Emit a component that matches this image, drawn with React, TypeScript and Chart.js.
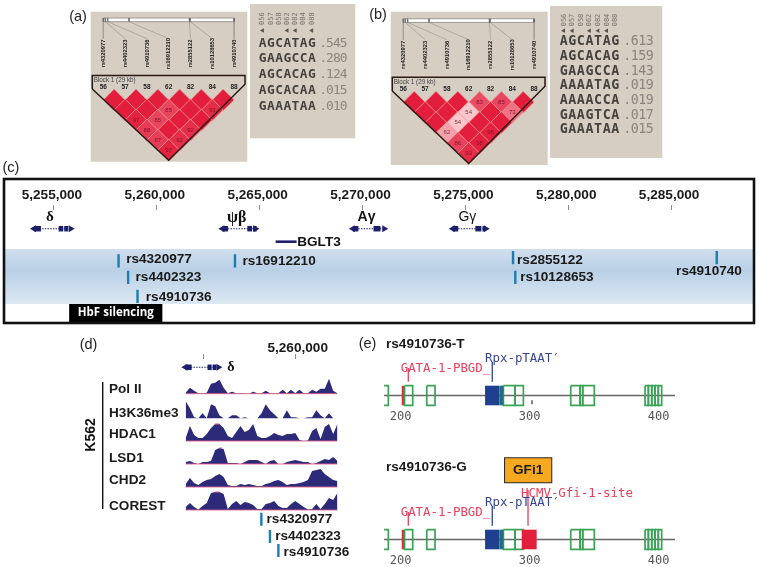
import React, { useEffect, useRef } from "react";
import { Chart, registerables } from "chart.js";

Chart.register(...registerables);

const W = 759;
const H = 567;
const SANS = '"Liberation Sans", Arial, sans-serif';
const SERIF = '"Liberation Serif", serif';
const MONO = '"DejaVu Sans Mono", monospace';

// ---------- data: LD blocks and haplotypes
const snpNames = ["rs4320977", "rs4402323", "rs4910736", "rs16912210", "rs2855122", "rs10128653", "rs4910740"];
const snpIds = ["56", "57", "58", "62", "82", "84", "88"];
const snpBarPositions = [0, 0.09, 0.2, 1.18, 3.95, 3.98, 6];
const ldA = [[100, 100, 100, 100, 100, 100], [100, 100, 85, 100, 93], [97, 85, 100, 100], [88, 100, 92], [87, 92], [97]];
const ldB = [[100, 100, 100, 83, 85, 100], [100, 100, 54, 100, 73], [100, 54, 100, 100], [62, 100, 98], [86, 98], [93]];
const hapHeaders = ["056", "057", "058", "062", "082", "084", "088"];
const hapsA = ["AGCATAG", "GAAGCCA", "AGCACAG", "AGCACAA", "GAAATAA"];
const freqsA = [".545", ".280", ".124", ".015", ".010"];
const arrowsA = [0, 3, 4, 6];
const hapsB = ["AGCATAG", "AGCACAG", "GAAGCCA", "AAAATAG", "AAAACCA", "GAAGTCA", "GAAATAA"];
const freqsB = [".613", ".159", ".143", ".019", ".019", ".017", ".015"];
const arrowsB = [0, 1, 3, 4, 5];

// ---------- data: genome browser
const genomeTicks = [5255000, 5260000, 5265000, 5270000, 5275000, 5280000, 5285000];
const zoomTicks = [5255000, 5260000];
const seqTicks = [200, 300, 400];
const genes = [
  { name: "δ", start: 5254029, end: 5255874, exons: [[5254029, 5254369], [5255228, 5255451], [5255500, 5255694]] },
  { name: "ψβ", start: 5263189, end: 5264854, exons: [[5263189, 5263460], [5264400, 5264630], [5264680, 5264854]] },
  { name: "Aγ", start: 5269529, end: 5271117, exons: [[5269529, 5269800], [5270534, 5270874]] },
  { name: "Gγ", start: 5274383, end: 5276053, exons: [[5274383, 5274650], [5275485, 5275777], [5275830, 5275960]] },
];
const bglt3 = [5265777, 5266796];
const silencing = [5255740, 5260270];
const snpBp = [5258141, 5258607, 5259063, 5263801, 5277316, 5277427, 5287218];

// ---------- data: K562 tracks (signal height)
const trackStart = 5254048;
const trackStep = 228;
const polII = [1, 6, 3, 0.5, 0.5, 1, 10, 11, 14, 6, 0.5, 2, 0.5, 0.5, 0.5, 0, 2, 0.5, 0.5, 3, 0.5, 0.5, 0.5, 4, 0.5, 4, 0.5, 4, 0.5, 0.5, 4, 2, 5, 5, 15, 3, 0.5];
const h3k36 = [17, 10, 1, 0, 5, 0, 14, 12, 3, 0, 0, 3, 3, 0, 1, 0, 0, 0, 5, 14, 8, 4, 0, 0, 8, 1, 1, 0, 0, 1, 1, 8, 3, 0, 5, 0, 0];
const hdac1 = [3, 15, 6, 3, 3, 7, 13, 17, 17, 13, 5, 3, 9, 15, 9, 11, 17, 5, 3, 3, 5, 8, 6, 5, 7, 7, 8, 1, 0, 0.5, 10, 13, 2, 14, 17, 7, 17];
const lsd1 = [2, 3, 1, 0, 2, 2, 3, 14, 16, 15, 1, 1, 1, 0, 2, 4, 4, 4, 2, 0, 3, 4, 0, 0, 2, 3, 4, 3, 2, 2, 0, 1, 3, 5, 4, 7, 3];
const chd2 = [3, 9, 4, 2, 5, 7, 8, 11, 13, 10, 2, 1, 1, 3, 2, 3, 2, 1, 1, 3, 4, 6, 7, 5, 2, 3, 3, 4, 5, 7, 16, 17, 18, 13, 10, 7, 6];
const corest = [3, 7, 3, 0.5, 4, 7, 17, 18, 18, 16, 1, 6, 9, 5, 8, 7, 5, 1, 1, 6, 7, 9, 4, 2, 2, 6, 9, 6, 3, 0.5, 1, 6, 1, 6, 12, 10, 17];
const trackNames = ["Pol II", "H3K36me3", "HDAC1", "LSD1", "CHD2", "COREST"];
const trackValues = [polII, h3k36, hdac1, lsd1, chd2, corest];
const clippedPeaks = [{ track: 2, from: 7, to: 8, level: 17 }, { track: 3, from: 8, to: 8.6, level: 16 }, { track: 5, from: 7, to: 8, level: 18 }];

// ---------- data: transcription-factor site map (sequence position)
const greenBoxes = [[203, 209.3], [220.2, 226.6], [279.6, 288.6], [288.6, 295.1], [331.8, 339], [339, 341.1], [341.1, 350.1], [389.4, 392], [392, 394.6], [394.6, 397.2], [397.2, 399.7], [399.7, 402.3]];
const greenBracket = [187.1, 190.4];
const gataSite = [200.8, 202.6];
const rpxSite = [265.4, 276.5];
const tealSite = [276.5, 279.6];
const gfiSite = [293.8, 305.4];
const rulerExtent = [187.1, 412.6];

// ---------- helpers
type Txt = { t: string; x: number; y: number; font: string; color?: string; align?: CanvasTextAlign; rot?: number; ls?: string; yAxis?: string };
type Rect = { l: number; r: number; t: number; b: number };

const range = (p0: number, p1: number, anchorPx: number, anchorVal: number, k: number) => ({
  min: anchorVal + (p0 - anchorPx) / k,
  max: anchorVal + (p1 - anchorPx) / k,
});

const seg = (data: any[], color: string, width: number, extra: any = {}) => ({
  data, showLine: true, borderColor: color, borderWidth: width, pointRadius: 0, clip: false, ...extra,
});
const pts = (data: any[], color: string, style: string, radius: number, rotation = 0, extra: any = {}) => ({
  data, showLine: false, backgroundColor: color, borderWidth: 0, pointStyle: style, pointRadius: radius, rotation, clip: false, ...extra,
});
const hidden = (r: { min: number; max: number }, reverse = false) => ({ type: "linear", display: false, reverse, ...r });
const fixedTicks = (values: number[]) => (s: any) => { s.ticks = values.map((value) => ({ value })); };

function makeChart(canvas: HTMLCanvasElement, cfg: {
  rect: Rect; axisTop?: number; axisBottom?: number; scales: any; datasets: any[]; texts?: Txt[];
  under?: (c: any) => void; over?: (c: any) => void;
}) {
  const { rect, axisTop = 0, axisBottom = 0 } = cfg;
  return new Chart(canvas, {
    type: "scatter",
    data: { datasets: cfg.datasets.slice().reverse() },
    options: {
      responsive: false,
      animation: false,
      devicePixelRatio: 1,
      events: [],
      layout: { padding: { left: rect.l, right: W - rect.r, top: rect.t - axisTop, bottom: H - rect.b - axisBottom } },
      scales: cfg.scales,
      plugins: { legend: { display: false }, tooltip: { enabled: false } },
    } as any,
    plugins: [{
      id: "panel",
      beforeDatasetsDraw: (c: any) => cfg.under && cfg.under(c),
      afterDatasetsDraw: (c: any) => {
        if (cfg.over) cfg.over(c);
        const ctx = c.ctx;
        for (const it of cfg.texts || []) {
          const px = c.scales.x.getPixelForValue(it.x);
          const py = c.scales[it.yAxis || "y"].getPixelForValue(it.y);
          ctx.save();
          ctx.translate(px, py);
          if (it.rot) ctx.rotate(it.rot);
          ctx.font = it.font;
          ctx.fillStyle = it.color || "#111";
          ctx.textAlign = it.align || "left";
          ctx.textBaseline = "middle";
          (ctx as any).letterSpacing = it.ls || "0px";
          ctx.fillText(it.t, 0, 0);
          ctx.restore();
        }
      },
    }] as any,
  });
}

function ldColor(v: number) {
  const t = Math.pow((100 - v) / 46, 1.3);
  const mix = (a: number, b: number) => Math.round(a + (b - a) * t);
  return `rgb(${mix(226, 250)},${mix(30, 198)},${mix(60, 204)})`;
}

function ldChart(canvas: HTMLCanvasElement, ld: number[][], rect: Rect, x0: number, y0: number, letter: string, letterX: number, letterY: number) {
  const dx = 21.8, dy = 10.6;
  const cells: any[] = [];
  const colors: string[] = [];
  const texts: Txt[] = [];
  ld.forEach((row, r) => row.forEach((v, k) => {
    const d = r + 1;
    const x = k + d / 2;
    cells.push({ x, y: d });
    colors.push(ldColor(v));
    if (v < 100) texts.push({ t: String(v), x, y: d, font: `6px ${SANS}`, color: v < 70 ? "#7a3a40" : "#8e1028", align: "center" });
  }));
  const barTop = -7.16, barBot = -6.8, nameEnd = -5.11;
  snpNames.forEach((n, i) => {
    texts.push({ t: n, x: i, y: -3.62, font: `bold 5.8px ${SANS}`, color: "#222", align: "center", rot: -Math.PI / 2 });
    texts.push({ t: snpIds[i], x: i, y: -0.245, font: `bold 6.5px ${SANS}`, color: "#222", align: "center" });
  });
  texts.push({ t: "Block 1 (29 kb)", x: -0.44, y: -0.93, font: `6.3px ${SANS}`, color: "#444" });
  texts.push({ t: letter, x: (letterX - x0) / dx, y: (letterY - y0) / dy, font: `14.5px ${SANS}`, color: "#222", align: "center" });
  return makeChart(canvas, {
    rect,
    scales: { x: hidden(range(rect.l, rect.r, x0, 0, dx)), y: hidden(range(rect.t, rect.b, y0, 0, dy), true) },
    under: (c) => {
      const a = c.chartArea;
      c.ctx.fillStyle = "#d6cdc3";
      c.ctx.fillRect(a.left, a.top, a.width, a.height);
    },
    texts,
    datasets: [
      ...snpBarPositions.map((p, i) => seg([{ x: p, y: barBot }, { x: i, y: nameEnd }], "#a5a099", 0.8)),
      seg([{ x: 0, y: (barTop + barBot) / 2 }, { x: 6, y: (barTop + barBot) / 2 }], "#ffffff", 3.6),
      seg([{ x: 0, y: barTop }, { x: 6, y: barTop }, { x: 6, y: barBot }, { x: 0, y: barBot }, { x: 0, y: barTop }], "#8a857f", 0.8),
      ...snpBarPositions.map((p) => seg([{ x: p, y: barTop }, { x: p, y: barBot }], "#6a6560", 0.8)),
      pts(cells, "#e21e3c", "rectRot", 10.9, 0, { backgroundColor: colors, borderColor: "#f09a94", borderWidth: 0.8 }),
      seg([{ x: -0.505, y: -0.085 }, { x: -0.505, y: -1.43 }, { x: 6.5, y: -1.43 }, { x: 6.5, y: -0.56 }, { x: 3, y: 7 }, { x: -0.505, y: -0.085 }], "#2a1a14", 1.5),
    ],
  });
}

function hapChart(canvas: HTMLCanvasElement, rect: Rect, haps: string[], freqs: string[], arrows: number[], x0: number, dx: number, y0: number, dy: number, freqPx: number, font: number, ls1: string, ls2: string, hdr: number, tri: number) {
  const texts: Txt[] = [];
  hapHeaders.forEach((h, i) => texts.push({ t: h, x: i, y: hdr, font: `7px ${MONO}`, color: "#77726c", align: "center", rot: -Math.PI / 2 }));
  haps.forEach((h, r) => {
    texts.push({ t: h, x: -0.5 + 0.03, y: r, font: `bold ${font}px ${MONO}`, color: "#45423e", ls: ls1 });
    texts.push({ t: freqs[r], x: (freqPx - x0) / dx, y: r, font: `${font}px ${MONO}`, color: "#8a857e", ls: ls2 });
  });
  return makeChart(canvas, {
    rect,
    scales: { x: hidden(range(rect.l, rect.r, x0, 0, dx)), y: hidden(range(rect.t, rect.b, y0, 0, dy), true) },
    under: (c) => {
      const a = c.chartArea;
      c.ctx.fillStyle = "#d6cdc3";
      c.ctx.fillRect(a.left, a.top, a.width, a.height);
    },
    texts,
    datasets: [pts(arrows.map((i) => ({ x: i, y: tri })), "#55514c", "triangle", 2.6, -90)],
  });
}

function geneSets(g: { start: number; end: number; exons: number[][] }, y: number) {
  const navy = "#1d1f6b";
  return [
    seg([{ x: g.start, y }, { x: g.end, y }], navy, 1.1, { borderDash: [1.5, 1.2] }),
    ...g.exons.map((e) => seg([{ x: e[0], y }, { x: e[1], y }], navy, 5.5)),
    pts([{ x: g.start, y }], navy, "triangle", 4, -90),
    pts([{ x: g.end - 60, y }], navy, "triangle", 4, 90),
  ];
}

function panelC(canvas: HTMLCanvasElement) {
  const k = 0.0206;
  const rect = { l: 3, r: 755, t: 210, b: 324 };
  const bold = `bold 13.6px ${SANS}`;
  const snpRows = [
    { top: 254.3, text: 259, off: 7.6 },
    { top: 270.7, text: 277.7, off: 7.4 },
    { top: 289.7, text: 297.3, off: 8.3 },
    { top: 254.3, text: 261.3, off: 7.4 },
    { top: 251, text: 260, off: 4 },
    { top: 270.7, text: 277, off: 5 },
    { top: 251, text: 271.7, off: -40.7 },
  ];
  const geneLabels = [
    { dx: 49, font: `bold 15px ${SERIF}` },
    { dx: 236, font: `bold 16px ${SERIF}` },
    { dx: 366, font: `bold 14px ${SANS}` },
    { dx: 467, font: `14px ${SANS}` },
  ];
  const toBp = (px: number) => 5255000 + (px - 53) / k;
  const texts: Txt[] = [
    { t: "(c)", x: toBp(10), y: 168, font: `14.5px ${SANS}`, color: "#222", align: "center" },
    { t: "BGLT3", x: bglt3[1] + 30, y: 242, font: bold },
    { t: "HbF silencing", x: (silencing[0] + silencing[1]) / 2, y: 313, font: `bold 11.5px "Open Sans", ${SANS}`, color: "#fff", align: "center" },
  ];
  genes.forEach((g, i) => texts.push({ t: g.name, x: toBp(geneLabels[i].dx), y: 217.5, font: geneLabels[i].font, align: "center" }));
  snpNames.forEach((n, i) => texts.push({ t: n, x: snpBp[i] + snpRows[i].off / k, y: snpRows[i].text, font: bold, color: "#1a1a1a" }));
  return makeChart(canvas, {
    rect,
    axisTop: 32,
    scales: {
      x: {
        type: "linear", position: "top", ...range(rect.l, rect.r, 53, 5255000, k),
        afterFit: (s: any) => { s.height = 32; },
        afterBuildTicks: fixedTicks(genomeTicks),
        grid: { display: true, drawOnChartArea: false, drawTicks: true, tickLength: 5, tickColor: "#8c8c8c", tickWidth: 1 },
        border: { display: false },
        ticks: { autoSkip: false, maxRotation: 0, padding: 2, labelOffset: -2, color: "#1a1a1a", font: { family: "Liberation Sans", size: 13.6, weight: "bold" }, callback: (v: number) => v.toLocaleString("en-US") },
      },
      y: hidden({ min: rect.t, max: rect.b }, true),
    },
    texts,
    under: (c) => {
      const ctx = c.ctx;
      const y = c.scales.y;
      const g = ctx.createLinearGradient(0, y.getPixelForValue(249), 0, y.getPixelForValue(304));
      g.addColorStop(0, "#cfdeed");
      g.addColorStop(0.4, "#b9d0e6");
      g.addColorStop(1, "#dde8f3");
      ctx.fillStyle = g;
      ctx.fillRect(4, y.getPixelForValue(249), 750, 55);
    },
    over: (c) => {
      const ctx = c.ctx;
      ctx.strokeStyle = "#111";
      ctx.lineWidth = 2.6;
      ctx.strokeRect(4, 179, 750, 144);
    },
    datasets: [
      ...genes.flatMap((g) => geneSets(g, 228.7)),
      seg([{ x: bglt3[0], y: 241.7 }, { x: bglt3[1], y: 241.7 }], "#1d1f6b", 2.6),
      seg([{ x: silencing[0], y: 313 }, { x: silencing[1], y: 313 }], "#000", 18),
      ...snpBp.map((b, i) => seg([{ x: b, y: snpRows[i].top }, { x: b, y: snpRows[i].top + 13.3 }], "#1c7db0", 2.4)),
    ],
  });
}

function panelD(canvas: HTMLCanvasElement) {
  const k = 0.01848;
  const rect = { l: 85, r: 345, t: 359, b: 560 };
  const baselines = [393.7, 418.3, 441, 464, 487, 510];
  const labelYs = [389, 413, 434.7, 458, 480.7, 506];
  const bold = `bold 13.6px ${SANS}`;
  const toBp = (px: number) => 5260000 + (px - 295.7) / k;
  const snpTops = [512.7, 530, 544];
  const snpTextY = [519.3, 536.3, 552.3];
  const trackScales: any = {};
  baselines.forEach((b, i) => { trackScales[`t${i}`] = hidden({ min: b - rect.b, max: b - rect.t }); });
  const texts: Txt[] = [
    { t: "(d)", x: toBp(88.5), y: 345, font: `14.5px ${SANS}`, color: "#222", align: "center" },
    { t: "δ", x: toBp(231), y: 367, font: `bold 14px ${SERIF}`, align: "center" },
    { t: "K562", x: toBp(90.7), y: 435, font: `bold 14px ${SANS}`, align: "center", rot: -Math.PI / 2 },
  ];
  trackNames.forEach((n, i) => texts.push({ t: n, x: toBp(109), y: labelYs[i], font: bold, color: "#1a1a1a" }));
  snpNames.slice(0, 3).forEach((n, i) => texts.push({ t: n, x: snpBp[i] + 5.2 / k, y: snpTextY[i], font: bold, color: "#1a1a1a" }));
  const xOf = (i: number) => trackStart + i * trackStep;
  return makeChart(canvas, {
    rect,
    axisTop: 20,
    scales: {
      x: {
        type: "linear", position: "top", ...range(rect.l, rect.r, 295.7, 5260000, k),
        afterFit: (s: any) => { s.height = 20; },
        afterBuildTicks: fixedTicks(zoomTicks),
        grid: { display: true, drawOnChartArea: false, drawTicks: true, tickLength: 5, tickColor: "#8c8c8c", tickWidth: 1 },
        border: { display: false },
        ticks: { autoSkip: false, maxRotation: 0, padding: -2, labelOffset: 2, color: "#1a1a1a", font: { family: "Liberation Sans", size: 13.6, weight: "bold" }, callback: (v: number) => (v === 5260000 ? v.toLocaleString("en-US") : "") },
      },
      y: hidden({ min: rect.t, max: rect.b }, true),
      ...trackScales,
    },
    texts,
    datasets: [
      ...geneSets(genes[0], 367.3),
      seg([{ x: toBp(102.7), y: 382 }, { x: toBp(102.7), y: 509 }], "#111", 1.4),
      ...trackValues.map((vals, i) =>
        seg(vals.map((v, j) => ({ x: xOf(j), y: v })), "rgba(0,0,0,0)", 0, { yAxisID: `t${i}`, fill: "origin", backgroundColor: "#2d2a7a" })),
      ...trackValues.map((vals, i) => i === 1 ? null :
        seg([{ x: xOf(0), y: 0 }, { x: xOf(vals.length - 1), y: 0 }], "#e0608c", 0.9, { yAxisID: `t${i}` })).filter(Boolean),
      ...clippedPeaks.map((p) => seg([{ x: xOf(p.from), y: p.level }, { x: xOf(p.to), y: p.level }], "#e0608c", 1.2, { yAxisID: `t${p.track}` })),
      ...snpBp.slice(0, 3).map((b, i) => seg([{ x: b, y: snpTops[i] }, { x: b, y: snpTops[i] + 13 }], "#1c7db0", 2.4)),
    ] as any[],
  });
}

function panelE(canvas: HTMLCanvasElement, rect: Rect, top: number, withG: boolean, labels: { gataY: number; rpxY: number; pinTop: number; rpxTop: number }, extraTexts: Txt[]) {
  const k = 1.29;
  const bot = top + 19.6;
  const mid = top + 9.8;
  const green = "#3aa356";
  const mono = `12.4px ${MONO}`;
  const loop = (a: number, b: number) => seg([{ x: a, y: top }, { x: b, y: top }, { x: b, y: bot }, { x: a, y: bot }, { x: a, y: top }], green, 1.7);
  const bar = (a: number[], color: string) => seg([{ x: a[0], y: mid }, { x: a[1], y: mid }], color, 19.6);
  const texts: Txt[] = [
    { t: "GATA-1-PBGD_", x: 200, y: labels.gataY, font: mono, color: "#e8405a" },
    { t: "Rpx-pTAAT′", x: 265.4, y: labels.rpxY, font: mono, color: "#36468f" },
    ...extraTexts,
  ];
  const datasets: any[] = [
    seg([{ x: rulerExtent[0], y: mid }, { x: rulerExtent[1], y: mid }], "#666", 1.5),
    seg([{ x: greenBracket[0], y: top }, { x: greenBracket[1], y: top }, { x: greenBracket[1], y: bot }, { x: greenBracket[0], y: bot }], green, 1.7),
    bar(gataSite, "#d8303a"),
    ...greenBoxes.map((b) => loop(b[0], b[1])),
    bar(rpxSite, "#1f3f8f"),
    bar(tealSite, "#1d6f80"),
    seg([{ x: 205.9, y: labels.pinTop }, { x: 205.9, y: top - 4 }], "#e4506a", 1.4),
    seg([{ x: 271, y: labels.rpxTop }, { x: 271, y: top - 4 }], "#3f4f9c", 1.4),
  ];
  if (withG) {
    datasets.push(bar(gfiSite, "#e3203c"));
    datasets.push(seg([{ x: 298.7, y: 490 }, { x: 298.7, y: top - 4 }], "#e4506a", 1.4));
    datasets.push(seg([{ x: 280.1, y: 470.3 }, { x: 317.5, y: 470.3 }], "#2a2a2a", 26));
    datasets.push(seg([{ x: 280.9, y: 470.3 }, { x: 316.7, y: 470.3 }], "#f6a81e", 24));
  } else {
    datasets.push(seg([{ x: 301.8, y: bot - 5 }, { x: 301.8, y: bot - 1 }], "#333", 1.2));
  }
  return makeChart(canvas, {
    rect,
    axisBottom: 13,
    scales: {
      x: {
        type: "linear", position: "bottom", ...range(rect.l, rect.r, 400.7, 200, k),
        afterFit: (s: any) => { s.height = 13; },
        afterBuildTicks: fixedTicks(seqTicks),
        grid: { display: false, drawTicks: false },
        border: { display: false },
        ticks: { autoSkip: false, maxRotation: 0, padding: 0, color: "#555", font: { family: "DejaVu Sans Mono", size: 12 } },
      },
      y: hidden({ min: rect.t, max: rect.b }, true),
    },
    texts,
    datasets,
  });
}

export default function App() {
  const refs = useRef<(HTMLCanvasElement | null)[]>([]);
  useEffect(() => {
    const c = refs.current as HTMLCanvasElement[];
    const charts = [
      ldChart(c[0], ldA, { l: 90.7, r: 247.3, t: 3.3, b: 161.7 }, 103.3, 85.9, "(a)", 78, 9),
      hapChart(c[1], { l: 250, r: 355.3, t: 3.3, b: 138.3 }, hapsA, freqsA, arrowsA, 262.6, 8.2, 42.7, 16, 319.3, 12.9, "0.45px", "-0.95px", -1.54, -0.79),
      ldChart(c[2], ldB, { l: 390.7, r: 547.7, t: 6, b: 165 }, 403.3, 89.2, "(b)", 378, 9),
      hapChart(c[3], { l: 550, r: 662.3, t: 6, b: 158 }, hapsB, freqsB, arrowsB, 563.7, 8.6, 41.7, 14.67, 623.3, 13.3, "0.6px", "-0.5px", -1.48, -0.75),
      panelC(c[4]),
      panelD(c[5]),
      panelE(c[6], { l: 380, r: 680, t: 340, b: 410 }, 385.7, false, { gataY: 368.3, rpxY: 358.7, pinTop: 368, rpxTop: 362 }, [
        { t: "(e)", x: 200 + (367.5 - 400.7) / 1.29, y: 344, font: `14.5px ${SANS}`, color: "#222", align: "center" },
        { t: "rs4910736-T", x: 200 + (386 - 400.7) / 1.29, y: 344, font: `bold 13.6px ${SANS}`, color: "#1a1a1a" },
      ]),
      panelE(c[7], { l: 380, r: 680, t: 450, b: 554 }, 529.7, true, { gataY: 512.3, rpxY: 502.7, pinTop: 512, rpxTop: 506 }, [
        { t: "rs4910736-G", x: 200 + (386 - 400.7) / 1.29, y: 467.3, font: `bold 13.6px ${SANS}`, color: "#1a1a1a" },
        { t: "GFi1", x: 298.8, y: 470.3, font: `bold 13.6px ${SANS}`, color: "#1a1a1a", align: "center" },
        { t: "HCMV-Gfi-1-site", x: 293.3, y: 493.3, font: `12.4px ${MONO}`, color: "#e8405a" },
      ]),
    ];
    return () => charts.forEach((ch) => ch.destroy());
  }, []);
  return (
    <div style={{ position: "absolute", left: 0, top: 0, width: W, height: H, overflow: "hidden", background: "#fff", filter: "blur(0.4px)" }}>
      {Array.from({ length: 8 }).map((_, i) => (
        <canvas key={i} ref={(el) => { refs.current[i] = el; }} width={W} height={H} style={{ position: "absolute", left: 0, top: 0, display: "block" }} />
      ))}
    </div>
  );
}
